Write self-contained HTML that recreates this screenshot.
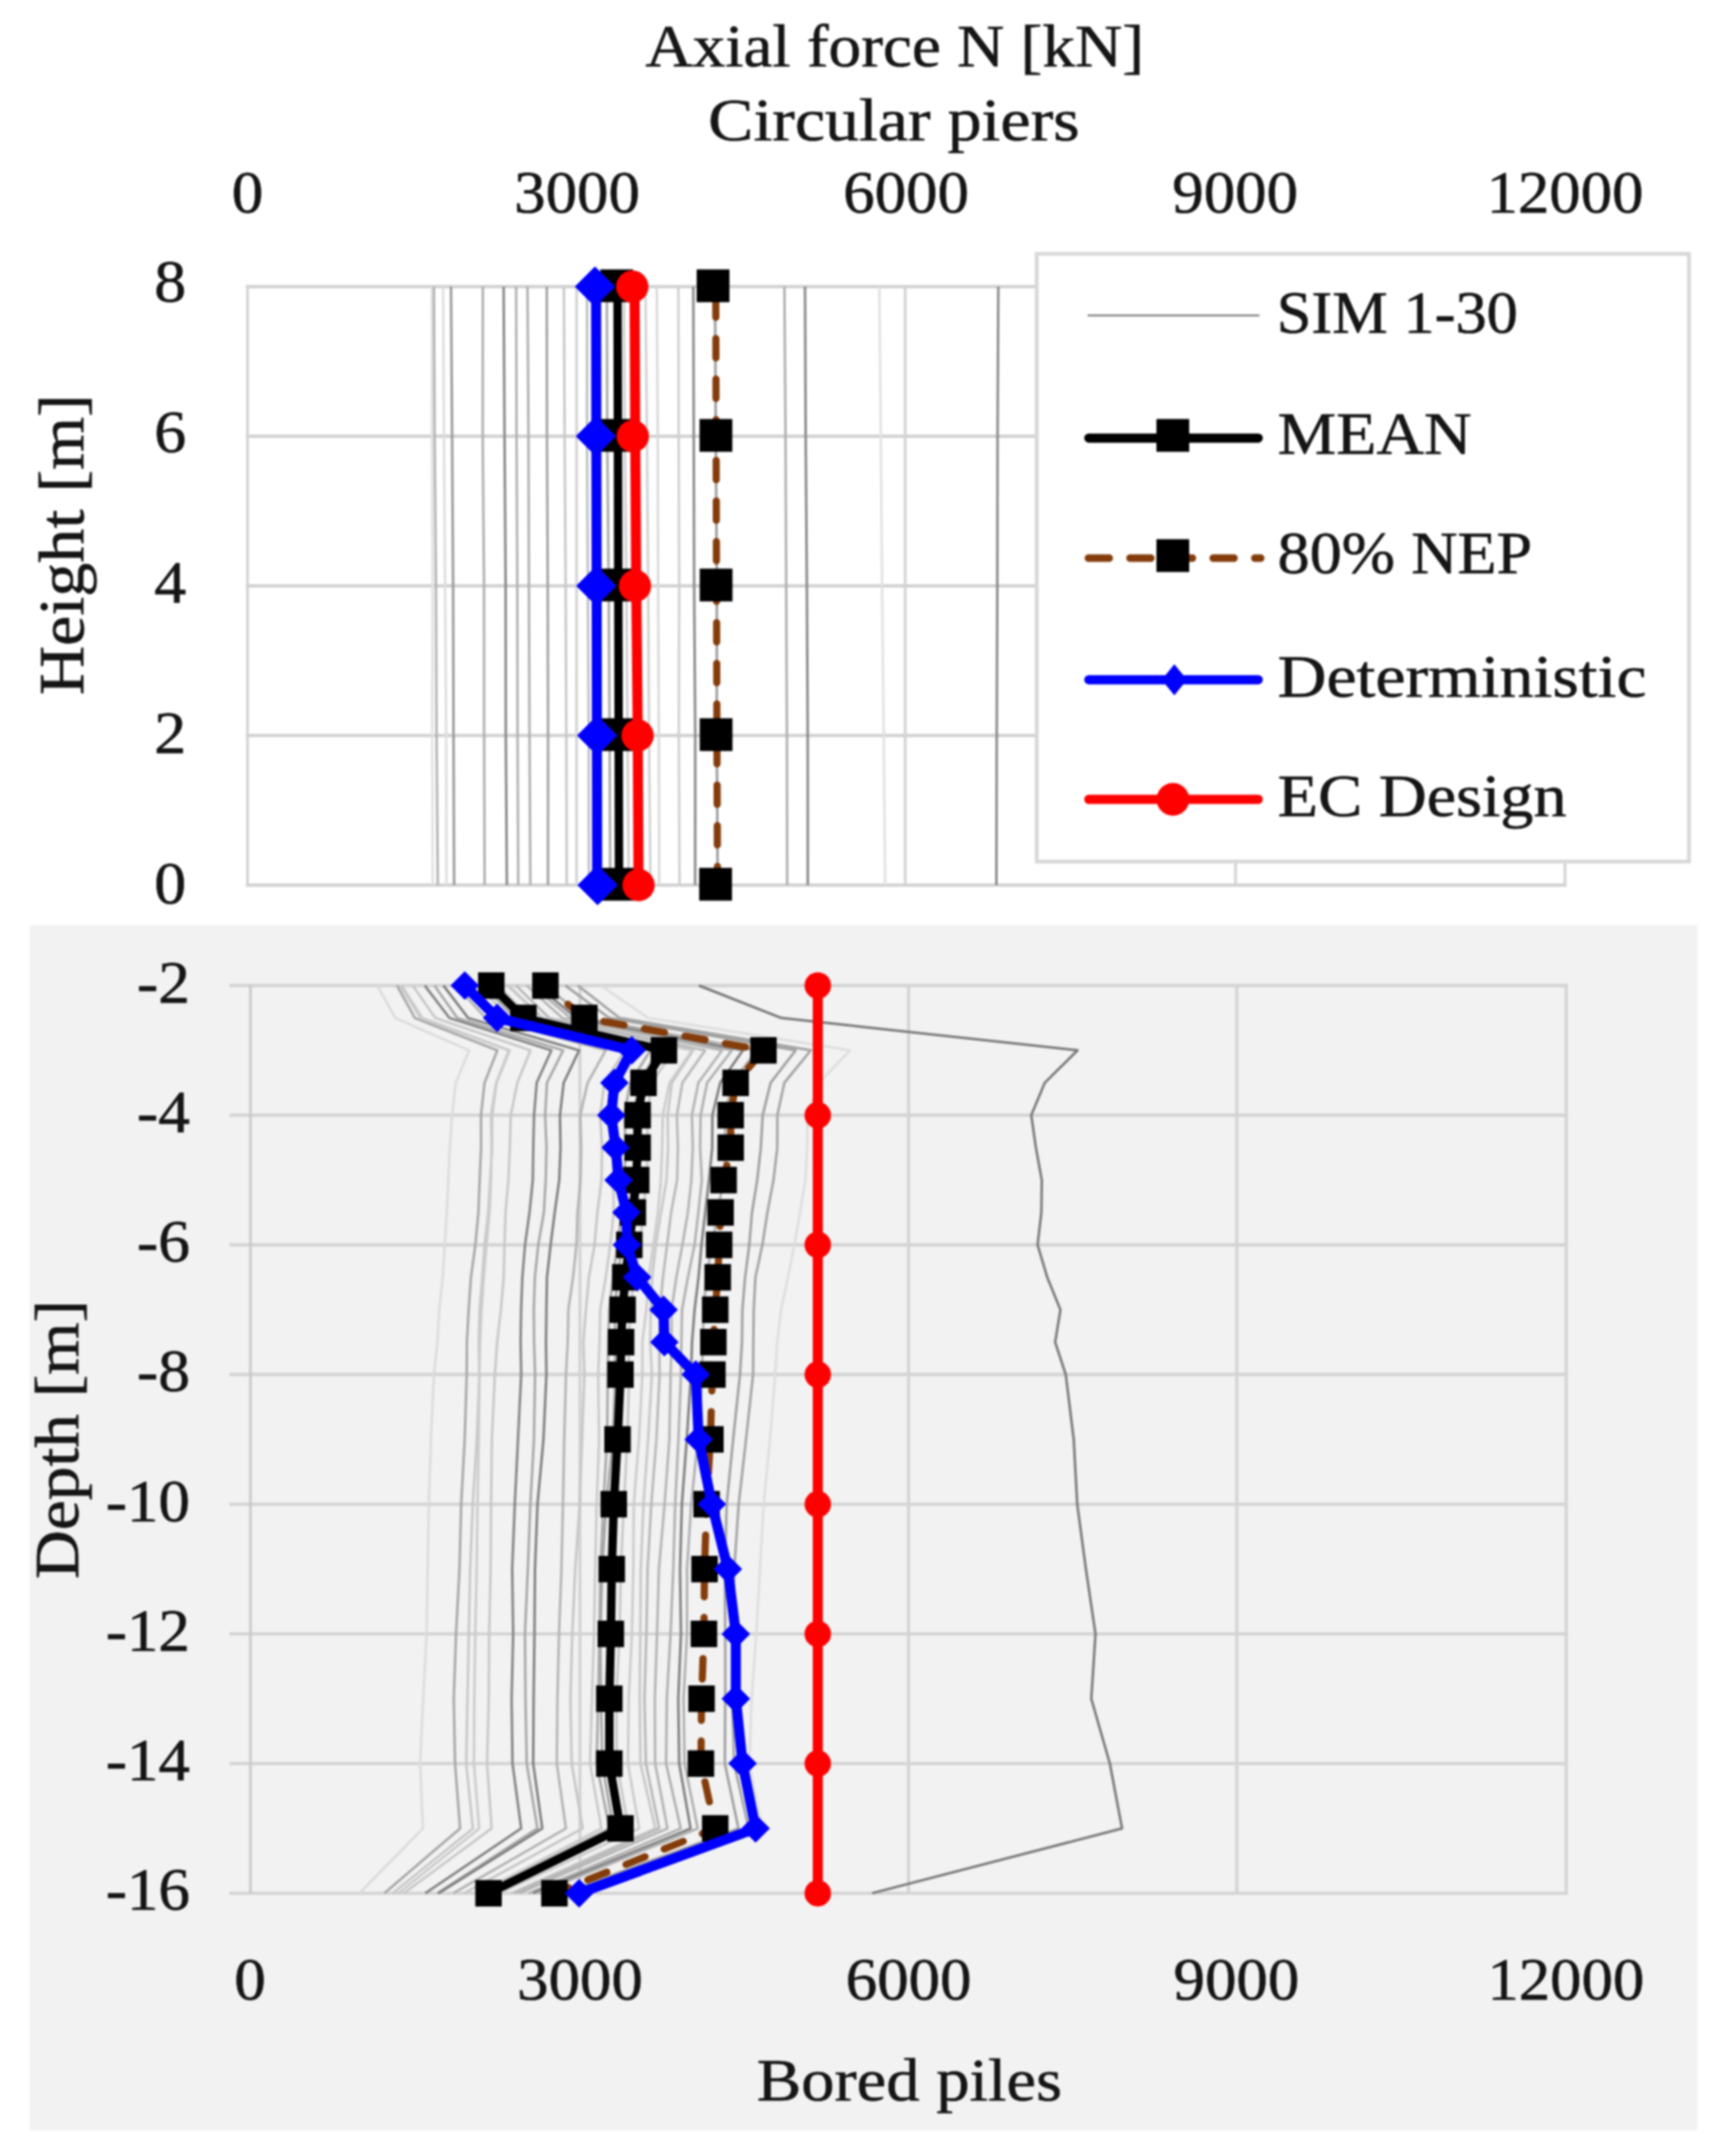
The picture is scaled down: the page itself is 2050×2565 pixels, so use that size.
<!DOCTYPE html>
<html><head><meta charset="utf-8"><title>Axial force N [kN]</title>
<style>html,body{margin:0;padding:0;background:#fff}svg{display:block;filter:blur(0.8px)}text{font-family:"Liberation Serif", serif;font-size:71px;fill:#151515;stroke:#151515;stroke-width:0.7px}</style></head><body>
<svg width="2050" height="2565" viewBox="0 0 2050 2565">
<rect x="0" y="0" width="2050" height="2565" fill="#ffffff"/>
<rect x="35.5" y="1100.5" width="1984" height="1434" fill="#f2f2f2"/>
<g stroke="#d2d2d2" stroke-width="4" fill="none">
<line x1="292.5" y1="1053.0" x2="1864" y2="1053.0"/>
<line x1="292.5" y1="875.0" x2="1864" y2="875.0"/>
<line x1="292.5" y1="697.0" x2="1864" y2="697.0"/>
<line x1="292.5" y1="519.0" x2="1864" y2="519.0"/>
<line x1="292.5" y1="341.0" x2="1864" y2="341.0"/>
<line x1="294.5" y1="341" x2="294.5" y2="1053" stroke-width="3.2"/>
<line x1="686" y1="341" x2="686" y2="1053" stroke-width="3.2"/>
<line x1="1077" y1="341" x2="1077" y2="1053" stroke-width="3.2"/>
<line x1="1470" y1="341" x2="1470" y2="1053" stroke-width="3.2"/>
<line x1="1862" y1="341" x2="1862" y2="1053" stroke-width="3.2"/>
</g>
<g fill="none" stroke-width="3">
<polyline stroke="#e2e2e2" points="513.8,341.0 513.9,519.0 514.6,697.0 514.2,875.0 514.8,1053.0"/>
<polyline stroke="#b4b4b4" points="516.3,341.0 517.1,519.0 518.7,697.0 519.4,875.0 520.9,1053.0"/>
<polyline stroke="#dedede" points="527.2,341.0 528.2,519.0 529.5,697.0 530.9,875.0 531.1,1053.0"/>
<polyline stroke="#9a9a9a" points="536.6,341.0 537.9,519.0 539.1,697.0 539.6,875.0 540.3,1053.0"/>
<polyline stroke="#b0b0b0" points="574.5,341.0 574.3,519.0 575.9,697.0 576.0,875.0 576.6,1053.0"/>
<polyline stroke="#888888" points="599.2,341.0 600.3,519.0 601.6,697.0 601.8,875.0 603.1,1053.0"/>
<polyline stroke="#b2b2b2" points="614.1,341.0 614.6,519.0 615.5,697.0 615.8,875.0 616.6,1053.0"/>
<polyline stroke="#b0b0b0" points="627.6,341.0 628.8,519.0 629.3,697.0 630.0,875.0 631.0,1053.0"/>
<polyline stroke="#a2a2a2" points="650.6,341.0 650.8,519.0 651.7,697.0 652.1,875.0 652.0,1053.0"/>
<polyline stroke="#c8c8c8" points="670.9,341.0 671.8,519.0 673.0,697.0 673.8,875.0 674.3,1053.0"/>
<polyline stroke="#c0c0c0" points="698.5,341.0 698.4,519.0 699.4,697.0 700.5,875.0 700.7,1053.0"/>
<polyline stroke="#aaaaaa" points="722.0,341.0 722.5,519.0 724.2,697.0 725.3,875.0 726.1,1053.0"/>
<polyline stroke="#d0d0d0" points="742.4,341.0 743.3,519.0 745.2,697.0 746.6,875.0 748.1,1053.0"/>
<polyline stroke="#d2d2d2" points="767.9,341.0 769.7,519.0 771.2,697.0 772.2,875.0 773.9,1053.0"/>
<polyline stroke="#dadada" points="781.4,341.0 782.6,519.0 783.0,697.0 783.9,875.0 784.3,1053.0"/>
<polyline stroke="#d0d0d0" points="807.1,341.0 807.5,519.0 808.1,697.0 807.7,875.0 808.5,1053.0"/>
<polyline stroke="#8a8a8a" points="824.9,341.0 825.4,519.0 825.9,697.0 827.2,875.0 827.1,1053.0"/>
<polyline stroke="#9c9c9c" points="850.7,341.0 851.6,519.0 852.9,697.0 852.8,875.0 853.9,1053.0"/>
<polyline stroke="#b0b0b0" points="933.3,341.0 934.6,519.0 935.4,697.0 936.3,875.0 936.6,1053.0"/>
<polyline stroke="#888888" points="957.8,341.0 958.6,519.0 960.0,697.0 961.0,875.0 961.1,1053.0"/>
<polyline stroke="#e2e2e2" points="1046.3,341.0 1047.9,519.0 1049.5,697.0 1051.4,875.0 1053.1,1053.0"/>
<polyline stroke="#8a8a8a" points="1187.8,341.0 1186.9,519.0 1186.6,697.0 1185.9,875.0 1185.5,1053.0"/>
</g>
<polyline fill="none" stroke="#000" stroke-width="10" stroke-linejoin="round" stroke-linecap="round"  points="734.7,341.0 735.2,519.0 735.6,697.0 736.1,875.0 736.5,1053.0"/>
<rect x="714.2" y="320.5" width="39" height="39" fill="#000"/>
<rect x="714.7" y="498.5" width="39" height="39" fill="#000"/>
<rect x="715.1" y="676.5" width="39" height="39" fill="#000"/>
<rect x="715.6" y="854.5" width="39" height="39" fill="#000"/>
<rect x="716.0" y="1032.5" width="39" height="39" fill="#000"/>
<polyline fill="none" stroke="#843c0b" stroke-width="8.5" stroke-linejoin="round" stroke-linecap="round" stroke-dasharray="23 25.3" stroke-dashoffset="-13.45" points="851.6,341.0 852.0,519.0 852.5,697.0 853.0,875.0 853.7,1053.0"/>
<rect x="828.9" y="320.5" width="39" height="39" fill="#000"/>
<rect x="832.3" y="498.5" width="39" height="39" fill="#000"/>
<rect x="832.5" y="676.5" width="39" height="39" fill="#000"/>
<rect x="832.5" y="854.5" width="39" height="39" fill="#000"/>
<rect x="831.9" y="1032.5" width="39" height="39" fill="#000"/>
<polyline fill="none" stroke="#0000ff" stroke-width="12" stroke-linejoin="round" stroke-linecap="round"  points="709.2,341.0 709.5,519.0 709.9,697.0 710.2,875.0 710.5,1053.0"/>
<polygon points="707.9,317.0 731.9,341.0 707.9,365.0 683.9,341.0" fill="#0000ff"/>
<polygon points="709.0,495.0 733.0,519.0 709.0,543.0 685.0,519.0" fill="#0000ff"/>
<polygon points="709.5,673.0 733.5,697.0 709.5,721.0 685.5,697.0" fill="#0000ff"/>
<polygon points="710.5,851.0 734.5,875.0 710.5,899.0 686.5,875.0" fill="#0000ff"/>
<polygon points="711.0,1029.0 735.0,1053.0 711.0,1077.0 687.0,1053.0" fill="#0000ff"/>
<polyline fill="none" stroke="#ff0000" stroke-width="12" stroke-linejoin="round" stroke-linecap="round"  points="755.0,341.0 755.8,519.0 757.0,697.0 758.8,875.0 759.7,1053.0"/>
<circle cx="752.3" cy="341.0" r="19.25" fill="#ff0000"/>
<circle cx="752.9" cy="519.0" r="19.25" fill="#ff0000"/>
<circle cx="755.5" cy="697.0" r="19.25" fill="#ff0000"/>
<circle cx="758.6" cy="875.0" r="19.25" fill="#ff0000"/>
<circle cx="759.7" cy="1053.0" r="19.25" fill="#ff0000"/>
<rect x="1233.5" y="302" width="776" height="723" fill="#ffffff" stroke="#d8d8d8" stroke-width="4.5"/>
<line x1="1294" y1="375.2" x2="1498.5" y2="375.2" stroke="#8c8c8c" stroke-width="2.6"/>
<line x1="1295.5" y1="521.2" x2="1497" y2="521.2" stroke="#000" stroke-width="11" stroke-linecap="round"/>
<rect x="1375.9" y="498.5" width="39" height="39" fill="#000"/>
<line x1="1295" y1="664" x2="1500" y2="664" stroke="#843c0b" stroke-width="9" stroke-linecap="round" stroke-dasharray="24.7 24.8"/>
<rect x="1375.9" y="641.5" width="39" height="39" fill="#000"/>
<line x1="1295.5" y1="808.7" x2="1497" y2="808.7" stroke="#0000ff" stroke-width="11" stroke-linecap="round"/>
<polygon points="1397.2,790.2 1412.2,808.7 1397.2,827.2 1382.2,808.7" fill="#0000ff"/>
<line x1="1295.5" y1="951" x2="1497" y2="951" stroke="#ff0000" stroke-width="11" stroke-linecap="round"/>
<circle cx="1395.5" cy="951.0" r="19.5" fill="#ff0000"/>
<text x="1519" y="396" text-anchor="start" textLength="287" lengthAdjust="spacingAndGlyphs" >SIM 1-30</text>
<text x="1520" y="540" text-anchor="start" textLength="231" lengthAdjust="spacingAndGlyphs" >MEAN</text>
<text x="1520" y="682" text-anchor="start" textLength="303" lengthAdjust="spacingAndGlyphs" >80% NEP</text>
<text x="1520" y="828.5" text-anchor="start" textLength="439" lengthAdjust="spacingAndGlyphs" >Deterministic</text>
<text x="1520" y="970.5" text-anchor="start" textLength="344" lengthAdjust="spacingAndGlyphs" >EC Design</text>
<text x="1064.5" y="79" text-anchor="middle" textLength="593" lengthAdjust="spacingAndGlyphs" >Axial force N [kN]</text>
<text x="1063.5" y="166.5" text-anchor="middle" textLength="442" lengthAdjust="spacingAndGlyphs" >Circular piers</text>
<text x="294.5" y="253" text-anchor="middle" textLength="37.5" lengthAdjust="spacingAndGlyphs" >0</text>
<text x="686.5" y="253" text-anchor="middle" textLength="149.5" lengthAdjust="spacingAndGlyphs" >3000</text>
<text x="1078" y="253" text-anchor="middle" textLength="149.5" lengthAdjust="spacingAndGlyphs" >6000</text>
<text x="1469.5" y="253" text-anchor="middle" textLength="149.5" lengthAdjust="spacingAndGlyphs" >9000</text>
<text x="1862" y="253" text-anchor="middle" textLength="186.5" lengthAdjust="spacingAndGlyphs" >12000</text>
<text x="221.5" y="359" text-anchor="end" textLength="38" lengthAdjust="spacingAndGlyphs" >8</text>
<text x="221.5" y="538" text-anchor="end" textLength="38" lengthAdjust="spacingAndGlyphs" >6</text>
<text x="221.5" y="717" text-anchor="end" textLength="38" lengthAdjust="spacingAndGlyphs" >4</text>
<text x="221.5" y="896" text-anchor="end" textLength="38" lengthAdjust="spacingAndGlyphs" >2</text>
<text x="221.5" y="1075" text-anchor="end" textLength="38" lengthAdjust="spacingAndGlyphs" >0</text>
<text transform="translate(98.5,827) rotate(-90)" textLength="358" lengthAdjust="spacingAndGlyphs" style="font-size:77px">Height [m]</text>
<g stroke="#d3d3d3" stroke-width="3.9" fill="none">
<line x1="273" y1="1172.5" x2="1865.3" y2="1172.5"/>
<line x1="273" y1="1326.8" x2="1865.3" y2="1326.8"/>
<line x1="273" y1="1481.0" x2="1865.3" y2="1481.0"/>
<line x1="273" y1="1635.3" x2="1865.3" y2="1635.3"/>
<line x1="273" y1="1789.6" x2="1865.3" y2="1789.6"/>
<line x1="273" y1="1943.9" x2="1865.3" y2="1943.9"/>
<line x1="273" y1="2098.1" x2="1865.3" y2="2098.1"/>
<line x1="273" y1="2252.4" x2="1865.3" y2="2252.4"/>
<line x1="298" y1="1172.5" x2="298" y2="2252.4" stroke-width="3.0" stroke="#c8c8c8"/>
<line x1="690" y1="1172.5" x2="690" y2="2252.4" stroke-width="3.8" stroke="#d4d4d4"/>
<line x1="1081" y1="1172.5" x2="1081" y2="2252.4" stroke-width="3.8" stroke="#d4d4d4"/>
<line x1="1471.5" y1="1172.5" x2="1471.5" y2="2252.4" stroke-width="3.8" stroke="#d4d4d4"/>
<line x1="1863.5" y1="1172.5" x2="1863.5" y2="2252.4" stroke-width="3.8" stroke="#d4d4d4"/>
</g>
<g fill="none" stroke-width="3" stroke-linejoin="round">
<polyline stroke="#dcdcdc" points="448.8,1172.5 470.3,1211.1 558.2,1249.6 542.3,1288.2 537.9,1326.8 535.2,1365.3 533.5,1403.9 531.6,1442.5 529.2,1481.0 526.7,1519.6 522.7,1558.2 520.4,1596.7 516.3,1635.3 512.6,1712.5 510.2,1789.6 508.8,1866.7 507.6,1943.9 503.5,2021.0 499.8,2098.1 503.2,2175.3 427.7,2252.4"/>
<polyline stroke="#a8a8a8" points="472.3,1172.5 493.6,1211.1 591.7,1249.6 576.5,1288.2 572.3,1326.8 572.4,1365.3 570.7,1403.9 569.2,1442.5 565.6,1481.0 560.3,1519.6 557.6,1558.2 555.5,1596.7 555.3,1635.3 552.9,1712.5 548.7,1789.6 546.7,1866.7 542.6,1943.9 539.9,2021.0 541.4,2098.1 547.4,2175.3 457.3,2252.4"/>
<polyline stroke="#c8c8c8" points="478.0,1172.5 502.2,1211.1 606.4,1249.6 590.7,1288.2 585.5,1326.8 585.5,1365.3 583.1,1403.9 580.9,1442.5 576.6,1481.0 573.8,1519.6 570.7,1558.2 569.6,1596.7 570.4,1635.3 567.3,1712.5 562.5,1789.6 559.4,1866.7 557.8,1943.9 556.2,2021.0 554.7,2098.1 562.6,2175.3 467.2,2252.4"/>
<polyline stroke="#cccccc" points="475.9,1172.5 500.3,1211.1 605.4,1249.6 590.3,1288.2 584.0,1326.8 584.8,1365.3 584.2,1403.9 582.4,1442.5 578.9,1481.0 575.6,1519.6 573.0,1558.2 571.2,1596.7 570.4,1635.3 569.6,1712.5 568.1,1789.6 567.1,1866.7 565.5,1943.9 564.3,2021.0 563.9,2098.1 570.1,2175.3 474.1,2252.4"/>
<polyline stroke="#c8c8c8" points="491.1,1172.5 518.0,1211.1 631.1,1249.6 615.5,1288.2 607.7,1326.8 606.6,1365.3 604.9,1403.9 601.5,1442.5 600.2,1481.0 599.3,1519.6 596.0,1558.2 591.5,1596.7 588.8,1635.3 585.2,1712.5 584.3,1789.6 583.7,1866.7 582.0,1943.9 581.5,2021.0 579.5,2098.1 584.9,2175.3 480.4,2252.4"/>
<polyline stroke="#858585" points="505.3,1172.5 534.8,1211.1 656.0,1249.6 638.6,1288.2 635.4,1326.8 634.5,1365.3 633.9,1403.9 630.0,1442.5 624.7,1481.0 621.5,1519.6 620.0,1558.2 619.4,1596.7 620.1,1635.3 616.3,1712.5 612.5,1789.6 609.4,1866.7 610.6,1943.9 608.7,2021.0 609.8,2098.1 620.1,2175.3 505.9,2252.4"/>
<polyline stroke="#a8a8a8" points="516.9,1172.5 544.1,1211.1 670.0,1249.6 650.8,1288.2 648.6,1326.8 650.2,1365.3 649.3,1403.9 647.1,1442.5 640.4,1481.0 636.4,1519.6 635.1,1558.2 635.5,1596.7 636.6,1635.3 635.3,1712.5 631.0,1789.6 628.0,1866.7 624.6,1943.9 625.2,2021.0 626.7,2098.1 639.4,2175.3 520.1,2252.4"/>
<polyline stroke="#808080" points="527.6,1172.5 557.0,1211.1 689.0,1249.6 670.7,1288.2 666.2,1326.8 666.9,1365.3 665.4,1403.9 660.0,1442.5 655.1,1481.0 650.8,1519.6 650.1,1558.2 649.6,1596.7 650.1,1635.3 646.6,1712.5 639.5,1789.6 636.5,1866.7 635.9,1943.9 634.9,2021.0 634.4,2098.1 645.2,2175.3 521.7,2252.4"/>
<polyline stroke="#b4b4b4" points="542.7,1172.5 577.6,1211.1 720.7,1249.6 699.1,1288.2 690.4,1326.8 691.5,1365.3 690.7,1403.9 687.1,1442.5 685.9,1481.0 681.8,1519.6 676.2,1558.2 675.5,1596.7 673.4,1635.3 671.3,1712.5 669.8,1789.6 668.0,1866.7 665.1,1943.9 663.2,2021.0 662.5,2098.1 673.3,2175.3 539.3,2252.4"/>
<polyline stroke="#c6c6c6" points="559.3,1172.5 593.8,1211.1 743.4,1249.6 719.1,1288.2 714.1,1326.8 716.3,1365.3 715.7,1403.9 710.8,1442.5 707.4,1481.0 700.7,1519.6 697.1,1558.2 694.0,1596.7 695.3,1635.3 692.5,1712.5 689.7,1789.6 684.4,1866.7 680.9,1943.9 678.7,2021.0 680.2,2098.1 693.2,2175.3 552.5,2252.4"/>
<polyline stroke="#cacaca" points="569.2,1172.5 606.0,1211.1 760.5,1249.6 735.6,1288.2 729.6,1326.8 729.8,1365.3 729.7,1403.9 730.2,1442.5 726.0,1481.0 720.8,1519.6 714.1,1558.2 713.4,1596.7 711.7,1635.3 712.8,1712.5 709.9,1789.6 708.2,1866.7 706.7,1943.9 704.3,2021.0 702.0,2098.1 715.5,2175.3 569.0,2252.4"/>
<polyline stroke="#a8a8a8" points="575.7,1172.5 612.3,1211.1 773.8,1249.6 749.7,1288.2 742.8,1326.8 744.6,1365.3 742.7,1403.9 739.8,1442.5 734.5,1481.0 729.5,1519.6 724.8,1558.2 723.7,1596.7 723.1,1635.3 722.3,1712.5 717.9,1789.6 714.4,1866.7 713.2,1943.9 711.8,2021.0 709.8,2098.1 725.1,2175.3 572.9,2252.4"/>
<polyline stroke="#a4a4a4" points="581.6,1172.5 617.8,1211.1 783.0,1249.6 760.5,1288.2 753.7,1326.8 755.9,1365.3 753.3,1403.9 747.1,1442.5 740.2,1481.0 734.7,1519.6 731.7,1558.2 732.0,1596.7 732.1,1635.3 729.3,1712.5 721.4,1789.6 716.5,1866.7 714.3,1943.9 715.1,2021.0 716.6,2098.1 729.8,2175.3 575.0,2252.4"/>
<polyline stroke="#c8c8c8" points="592.8,1172.5 630.9,1211.1 801.8,1249.6 775.4,1288.2 769.9,1326.8 770.8,1365.3 769.3,1403.9 765.0,1442.5 761.8,1481.0 754.3,1519.6 750.1,1558.2 747.5,1596.7 748.6,1635.3 746.4,1712.5 742.3,1789.6 738.7,1866.7 737.1,1943.9 733.2,2021.0 733.8,2098.1 747.9,2175.3 588.9,2252.4"/>
<polyline stroke="#cccccc" points="603.6,1172.5 644.7,1211.1 823.6,1249.6 796.6,1288.2 788.6,1326.8 787.8,1365.3 786.3,1403.9 782.8,1442.5 777.3,1481.0 771.9,1519.6 769.0,1558.2 764.2,1596.7 764.3,1635.3 760.2,1712.5 754.1,1789.6 753.5,1866.7 751.8,1943.9 748.1,2021.0 747.1,2098.1 760.5,2175.3 593.9,2252.4"/>
<polyline stroke="#c8c8c8" points="605.3,1172.5 645.3,1211.1 824.7,1249.6 799.4,1288.2 794.4,1326.8 794.9,1365.3 793.0,1403.9 786.5,1442.5 780.4,1481.0 775.9,1519.6 774.3,1558.2 773.6,1596.7 775.6,1635.3 771.1,1712.5 765.6,1789.6 762.4,1866.7 761.8,1943.9 761.1,2021.0 762.0,2098.1 779.7,2175.3 608.4,2252.4"/>
<polyline stroke="#b8b8b8" points="614.0,1172.5 653.4,1211.1 838.9,1249.6 811.9,1288.2 805.3,1326.8 806.6,1365.3 805.6,1403.9 798.5,1442.5 793.7,1481.0 788.8,1519.6 785.0,1558.2 784.4,1596.7 784.8,1635.3 781.0,1712.5 774.9,1789.6 770.5,1866.7 769.1,1943.9 766.8,2021.0 768.5,2098.1 784.3,2175.3 612.0,2252.4"/>
<polyline stroke="#b4b4b4" points="626.5,1172.5 669.1,1211.1 859.0,1249.6 830.9,1288.2 823.2,1326.8 824.3,1365.3 822.6,1403.9 818.4,1442.5 811.9,1481.0 804.7,1519.6 798.9,1558.2 799.1,1596.7 797.9,1635.3 796.4,1712.5 790.7,1789.6 784.0,1866.7 781.7,1943.9 779.1,2021.0 779.5,2098.1 794.1,2175.3 617.7,2252.4"/>
<polyline stroke="#b0b0b0" points="633.7,1172.5 678.9,1211.1 870.8,1249.6 841.3,1288.2 833.6,1326.8 833.0,1365.3 835.0,1403.9 830.9,1442.5 826.4,1481.0 818.5,1519.6 811.5,1558.2 810.7,1596.7 810.2,1635.3 807.2,1712.5 803.3,1789.6 801.1,1866.7 797.8,1943.9 793.4,2021.0 792.5,2098.1 809.9,2175.3 629.0,2252.4"/>
<polyline stroke="#808080" points="639.2,1172.5 685.7,1211.1 883.8,1249.6 856.9,1288.2 847.6,1326.8 847.4,1365.3 843.5,1403.9 839.1,1442.5 834.6,1481.0 831.1,1519.6 826.4,1558.2 823.4,1596.7 822.1,1635.3 817.1,1712.5 811.3,1789.6 809.1,1866.7 810.2,1943.9 807.0,2021.0 808.1,2098.1 821.6,2175.3 634.2,2252.4"/>
<polyline stroke="#b0b0b0" points="649.0,1172.5 696.3,1211.1 900.6,1249.6 870.8,1288.2 862.5,1326.8 863.3,1365.3 860.8,1403.9 853.7,1442.5 847.7,1481.0 839.8,1519.6 837.8,1558.2 835.7,1596.7 835.8,1635.3 830.3,1712.5 822.4,1789.6 817.4,1866.7 817.4,1943.9 813.3,2021.0 814.5,2098.1 830.1,2175.3 639.8,2252.4"/>
<polyline stroke="#a0a0a0" points="672.6,1172.5 724.9,1211.1 946.6,1249.6 916.9,1288.2 907.4,1326.8 905.2,1365.3 900.9,1403.9 894.7,1442.5 891.5,1481.0 886.5,1519.6 883.3,1558.2 882.8,1596.7 880.4,1635.3 872.3,1712.5 864.6,1789.6 862.4,1866.7 862.9,1943.9 862.9,2021.0 862.4,2098.1 878.6,2175.3 669.4,2252.4"/>
<polyline stroke="#a4a4a4" points="687.5,1172.5 737.2,1211.1 964.6,1249.6 933.2,1288.2 924.9,1326.8 924.8,1365.3 920.3,1403.9 913.0,1442.5 907.1,1481.0 898.8,1519.6 896.8,1558.2 896.3,1596.7 896.0,1635.3 887.6,1712.5 878.9,1789.6 873.6,1866.7 872.3,1943.9 871.1,2021.0 873.5,2098.1 890.7,2175.3 678.7,2252.4"/>
<polyline stroke="#dedede" points="715.0,1172.5 770.9,1211.1 1011.2,1249.6 974.4,1288.2 960.9,1326.8 960.2,1365.3 958.3,1403.9 951.8,1442.5 945.1,1481.0 937.5,1519.6 929.3,1558.2 924.7,1596.7 922.3,1635.3 916.1,1712.5 908.6,1789.6 904.2,1866.7 899.8,1943.9 894.3,2021.0 891.6,2098.1 906.7,2175.3 688.3,2252.4"/>
<polyline stroke="#7a7a7a" points="831.7,1172.5 929.6,1211.1 1282.0,1249.6 1243.0,1288.2 1227.0,1326.8 1232.5,1365.3 1239.5,1403.9 1239.0,1442.5 1234.5,1481.0 1246.0,1519.6 1261.7,1558.2 1255.4,1596.7 1268.0,1635.3 1277.5,1712.5 1281.7,1789.6 1292.0,1866.7 1303.4,1943.9 1298.4,2021.0 1320.5,2098.1 1335.0,2175.3 1037.6,2252.4"/>
</g>
<polyline fill="none" stroke="#000" stroke-width="10" stroke-linejoin="round" stroke-linecap="round"  points="584.5,1172.5 622.8,1211.1 790.0,1249.6 765.6,1288.2 758.6,1326.8 758.6,1365.3 757.0,1403.9 753.0,1442.5 748.7,1481.0 744.0,1519.6 740.7,1558.2 739.0,1596.7 738.3,1635.3 734.8,1712.5 730.3,1789.6 727.9,1866.7 726.8,1943.9 725.0,2021.0 725.0,2098.1 738.3,2175.3 581.3,2252.4"/>
<rect x="568.8" y="1156.8" width="31.5" height="31.5" fill="#000"/>
<rect x="607.0" y="1195.3" width="31.5" height="31.5" fill="#000"/>
<rect x="774.2" y="1233.9" width="31.5" height="31.5" fill="#000"/>
<rect x="749.9" y="1272.5" width="31.5" height="31.5" fill="#000"/>
<rect x="742.9" y="1311.0" width="31.5" height="31.5" fill="#000"/>
<rect x="742.9" y="1349.6" width="31.5" height="31.5" fill="#000"/>
<rect x="741.2" y="1388.2" width="31.5" height="31.5" fill="#000"/>
<rect x="737.2" y="1426.7" width="31.5" height="31.5" fill="#000"/>
<rect x="733.0" y="1465.3" width="31.5" height="31.5" fill="#000"/>
<rect x="728.2" y="1503.9" width="31.5" height="31.5" fill="#000"/>
<rect x="725.0" y="1542.4" width="31.5" height="31.5" fill="#000"/>
<rect x="723.2" y="1581.0" width="31.5" height="31.5" fill="#000"/>
<rect x="722.5" y="1619.6" width="31.5" height="31.5" fill="#000"/>
<rect x="719.0" y="1696.7" width="31.5" height="31.5" fill="#000"/>
<rect x="714.5" y="1773.8" width="31.5" height="31.5" fill="#000"/>
<rect x="712.1" y="1851.0" width="31.5" height="31.5" fill="#000"/>
<rect x="711.0" y="1928.1" width="31.5" height="31.5" fill="#000"/>
<rect x="709.2" y="2005.2" width="31.5" height="31.5" fill="#000"/>
<rect x="709.2" y="2082.4" width="31.5" height="31.5" fill="#000"/>
<rect x="722.5" y="2159.5" width="31.5" height="31.5" fill="#000"/>
<rect x="565.5" y="2236.7" width="31.5" height="31.5" fill="#000"/>
<polyline fill="none" stroke="#843c0b" stroke-width="8.5" stroke-linejoin="round" stroke-linecap="round" stroke-dasharray="24.5 24.5" stroke-dashoffset="14.28" points="649.0,1172.5 695.3,1211.1 908.4,1249.6 875.3,1288.2 869.4,1326.8 869.4,1365.3 861.0,1403.9 857.4,1442.5 855.6,1481.0 854.0,1519.6 851.0,1558.2 848.7,1596.7 847.6,1635.3 845.2,1712.5 840.7,1789.6 838.2,1866.7 837.5,1943.9 834.7,2021.0 834.0,2098.1 851.0,2175.3 659.6,2252.4"/>
<rect x="633.2" y="1156.8" width="31.5" height="31.5" fill="#000"/>
<rect x="679.5" y="1195.3" width="31.5" height="31.5" fill="#000"/>
<rect x="892.6" y="1233.9" width="31.5" height="31.5" fill="#000"/>
<rect x="859.5" y="1272.5" width="31.5" height="31.5" fill="#000"/>
<rect x="853.6" y="1311.0" width="31.5" height="31.5" fill="#000"/>
<rect x="853.6" y="1349.6" width="31.5" height="31.5" fill="#000"/>
<rect x="845.2" y="1388.2" width="31.5" height="31.5" fill="#000"/>
<rect x="841.6" y="1426.7" width="31.5" height="31.5" fill="#000"/>
<rect x="839.9" y="1465.3" width="31.5" height="31.5" fill="#000"/>
<rect x="838.2" y="1503.9" width="31.5" height="31.5" fill="#000"/>
<rect x="835.2" y="1542.4" width="31.5" height="31.5" fill="#000"/>
<rect x="833.0" y="1581.0" width="31.5" height="31.5" fill="#000"/>
<rect x="831.9" y="1619.6" width="31.5" height="31.5" fill="#000"/>
<rect x="829.5" y="1696.7" width="31.5" height="31.5" fill="#000"/>
<rect x="825.0" y="1773.8" width="31.5" height="31.5" fill="#000"/>
<rect x="822.5" y="1851.0" width="31.5" height="31.5" fill="#000"/>
<rect x="821.8" y="1928.1" width="31.5" height="31.5" fill="#000"/>
<rect x="819.0" y="2005.2" width="31.5" height="31.5" fill="#000"/>
<rect x="818.2" y="2082.4" width="31.5" height="31.5" fill="#000"/>
<rect x="835.2" y="2159.5" width="31.5" height="31.5" fill="#000"/>
<rect x="643.9" y="2236.7" width="31.5" height="31.5" fill="#000"/>
<polyline fill="none" stroke="#0000ff" stroke-width="12" stroke-linejoin="round" stroke-linecap="round"  points="553.0,1172.5 591.5,1211.1 751.7,1249.6 731.0,1288.2 727.3,1326.8 732.5,1365.3 736.0,1403.9 745.3,1442.5 746.0,1481.0 758.0,1519.6 789.5,1558.2 790.5,1596.7 827.8,1635.3 831.3,1712.5 847.0,1789.6 866.0,1866.7 875.5,1943.9 875.5,2021.0 883.5,2098.1 899.0,2175.3 689.0,2252.4"/>
<polygon points="553.0,1155.5 570.0,1172.5 553.0,1189.5 536.0,1172.5" fill="#0000ff"/>
<polygon points="591.5,1194.1 608.5,1211.1 591.5,1228.1 574.5,1211.1" fill="#0000ff"/>
<polygon points="751.7,1232.6 768.7,1249.6 751.7,1266.6 734.7,1249.6" fill="#0000ff"/>
<polygon points="731.0,1271.2 748.0,1288.2 731.0,1305.2 714.0,1288.2" fill="#0000ff"/>
<polygon points="727.3,1309.8 744.3,1326.8 727.3,1343.8 710.3,1326.8" fill="#0000ff"/>
<polygon points="732.5,1348.3 749.5,1365.3 732.5,1382.3 715.5,1365.3" fill="#0000ff"/>
<polygon points="736.0,1386.9 753.0,1403.9 736.0,1420.9 719.0,1403.9" fill="#0000ff"/>
<polygon points="745.3,1425.5 762.3,1442.5 745.3,1459.5 728.3,1442.5" fill="#0000ff"/>
<polygon points="746.0,1464.0 763.0,1481.0 746.0,1498.0 729.0,1481.0" fill="#0000ff"/>
<polygon points="758.0,1502.6 775.0,1519.6 758.0,1536.6 741.0,1519.6" fill="#0000ff"/>
<polygon points="789.5,1541.2 806.5,1558.2 789.5,1575.2 772.5,1558.2" fill="#0000ff"/>
<polygon points="790.5,1579.7 807.5,1596.7 790.5,1613.7 773.5,1596.7" fill="#0000ff"/>
<polygon points="827.8,1618.3 844.8,1635.3 827.8,1652.3 810.8,1635.3" fill="#0000ff"/>
<polygon points="831.3,1695.5 848.3,1712.5 831.3,1729.5 814.3,1712.5" fill="#0000ff"/>
<polygon points="847.0,1772.6 864.0,1789.6 847.0,1806.6 830.0,1789.6" fill="#0000ff"/>
<polygon points="866.0,1849.7 883.0,1866.7 866.0,1883.7 849.0,1866.7" fill="#0000ff"/>
<polygon points="875.5,1926.9 892.5,1943.9 875.5,1960.9 858.5,1943.9" fill="#0000ff"/>
<polygon points="875.5,2004.0 892.5,2021.0 875.5,2038.0 858.5,2021.0" fill="#0000ff"/>
<polygon points="883.5,2081.1 900.5,2098.1 883.5,2115.1 866.5,2098.1" fill="#0000ff"/>
<polygon points="899.0,2158.3 916.0,2175.3 899.0,2192.3 882.0,2175.3" fill="#0000ff"/>
<polygon points="689.0,2235.4 706.0,2252.4 689.0,2269.4 672.0,2252.4" fill="#0000ff"/>
<polyline fill="none" stroke="#ff0000" stroke-width="12" stroke-linejoin="round" stroke-linecap="round"  points="973.0,1172.5 973.0,1326.8 973.0,1481.0 973.0,1635.3 973.0,1789.6 973.0,1943.9 973.0,2098.1 973.0,2252.4"/>
<circle cx="973.0" cy="1172.5" r="15.75" fill="#ff0000"/>
<circle cx="973.0" cy="1326.8" r="15.75" fill="#ff0000"/>
<circle cx="973.0" cy="1481.0" r="15.75" fill="#ff0000"/>
<circle cx="973.0" cy="1635.3" r="15.75" fill="#ff0000"/>
<circle cx="973.0" cy="1789.6" r="15.75" fill="#ff0000"/>
<circle cx="973.0" cy="1943.9" r="15.75" fill="#ff0000"/>
<circle cx="973.0" cy="2098.1" r="15.75" fill="#ff0000"/>
<circle cx="973.0" cy="2252.4" r="15.75" fill="#ff0000"/>
<text x="226" y="1192.5" text-anchor="end" textLength="63" lengthAdjust="spacingAndGlyphs" >-2</text>
<text x="226" y="1346.7714285714285" text-anchor="end" textLength="63" lengthAdjust="spacingAndGlyphs" >-4</text>
<text x="226" y="1501.0428571428572" text-anchor="end" textLength="63" lengthAdjust="spacingAndGlyphs" >-6</text>
<text x="226" y="1655.3142857142857" text-anchor="end" textLength="63" lengthAdjust="spacingAndGlyphs" >-8</text>
<text x="226" y="1809.5857142857144" text-anchor="end" textLength="100" lengthAdjust="spacingAndGlyphs" >-10</text>
<text x="226" y="1963.857142857143" text-anchor="end" textLength="100" lengthAdjust="spacingAndGlyphs" >-12</text>
<text x="226" y="2118.1285714285714" text-anchor="end" textLength="100" lengthAdjust="spacingAndGlyphs" >-14</text>
<text x="226" y="2272.4" text-anchor="end" textLength="100" lengthAdjust="spacingAndGlyphs" >-16</text>
<text transform="translate(92.5,1878.5) rotate(-90)" textLength="332" lengthAdjust="spacingAndGlyphs" style="font-size:75px">Depth [m]</text>
<text x="297.5" y="2378.5" text-anchor="middle" textLength="37.5" lengthAdjust="spacingAndGlyphs" >0</text>
<text x="690" y="2378.5" text-anchor="middle" textLength="149.5" lengthAdjust="spacingAndGlyphs" >3000</text>
<text x="1081" y="2378.5" text-anchor="middle" textLength="149.5" lengthAdjust="spacingAndGlyphs" >6000</text>
<text x="1471" y="2378.5" text-anchor="middle" textLength="149.5" lengthAdjust="spacingAndGlyphs" >9000</text>
<text x="1863" y="2378.5" text-anchor="middle" textLength="186.5" lengthAdjust="spacingAndGlyphs" >12000</text>
<text x="1082" y="2499" text-anchor="middle" textLength="363" lengthAdjust="spacingAndGlyphs" >Bored piles</text>
</svg></body></html>
